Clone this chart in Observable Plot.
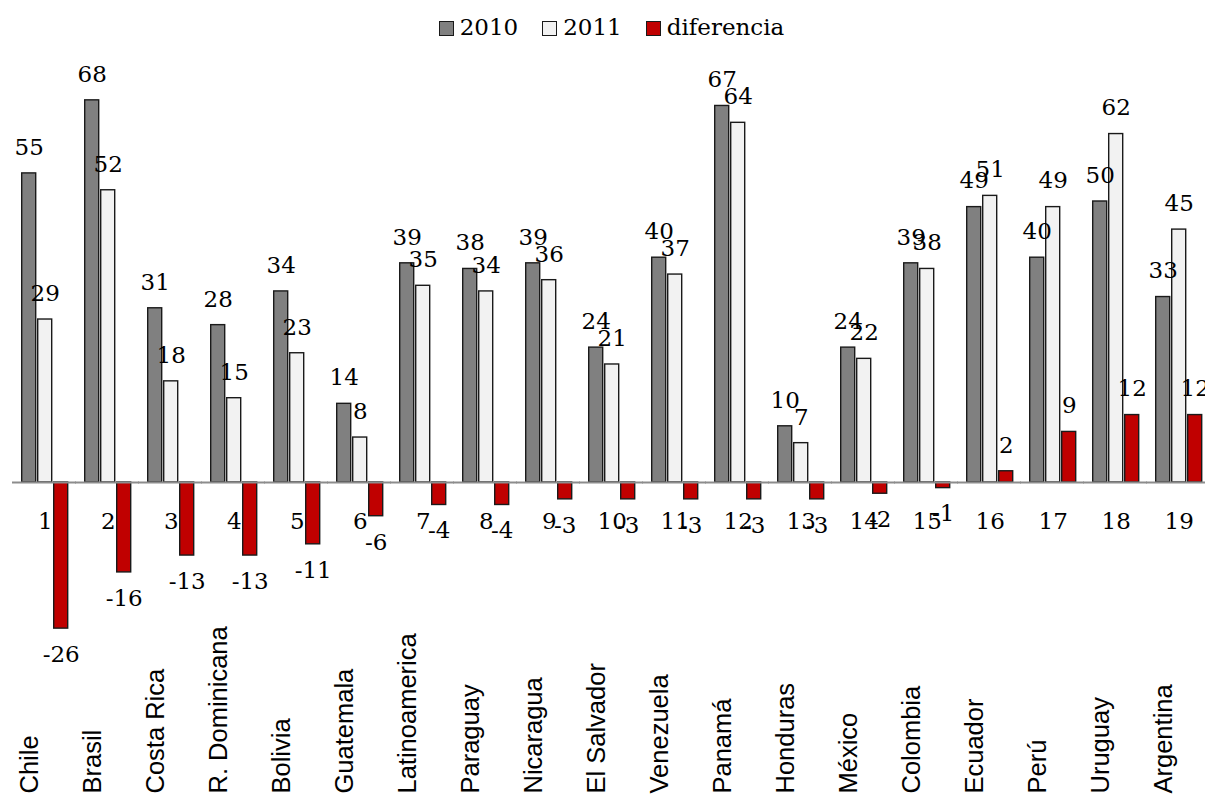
<!DOCTYPE html>
<html>
<head>
<meta charset="utf-8">
<script src="https://cdn.jsdelivr.net/npm/d3@7"></script>
<script src="https://cdn.jsdelivr.net/npm/@observablehq/plot@0.6"></script>
<style>
  body { margin: 0; background: #fff; }
  #legend {
    height: 50px; display: flex; justify-content: center; align-items: flex-start;
    font-family: "DejaVu Serif", serif; font-size: 23px; color: #000;
    padding-left: 18px; box-sizing: border-box;
  }
  .item { display: flex; align-items: center; margin: 0 12px; margin-top: 14px; }
  .sw { width: 13px; height: 13px; border: 1.4px solid #1a1a1a; margin-right: 6px; margin-top: 2px; }
  #chart svg { display: block; }
</style>
</head>
<body>
<div id="legend"></div>
<div id="chart"></div>
<script>
const countries = ["Chile","Brasil","Costa Rica","R. Dominicana","Bolivia","Guatemala","Latinoamerica","Paraguay","Nicaragua","El Salvador","Venezuela","Panamá","Honduras","México","Colombia","Ecuador","Perú","Uruguay","Argentina"];
const series = ["2010", "2011", "diferencia"];
const v2010 = [55,68,31,28,34,14,39,38,39,24,40,67,10,24,39,49,40,50,33];
const v2011 = [29,52,18,15,23,8,35,34,36,21,37,64,7,22,38,51,49,62,45];
const diferencia = [-26,-16,-13,-13,-11,-6,-4,-4,-3,-3,-3,-3,-3,-2,-1,2,9,12,12];
const indices = countries.map((c, i) => String(i + 1));
const colors = ["#808080", "#f2f2f2", "#c00000"];

const rows = [];
countries.forEach((c, i) => {
  rows.push({country: c, serie: "2010", value: v2010[i]});
  rows.push({country: c, serie: "2011", value: v2011[i]});
  rows.push({country: c, serie: "diferencia", value: diferencia[i]});
});
const idx = countries.map((c, i) => ({country: c, label: indices[i]}));

// legend
const legend = document.getElementById("legend");
series.forEach((s, i) => {
  const it = document.createElement("div");
  it.className = "item";
  const sw = document.createElement("div");
  sw.className = "sw";
  sw.style.background = colors[i];
  const t = document.createElement("span");
  t.textContent = s;
  it.appendChild(sw); it.appendChild(t);
  legend.appendChild(it);
});

const serif = "DejaVu Serif, serif";
const chart = Plot.plot({
  width: 1205,
  height: 746,
  marginLeft: 18.3,
  marginRight: 1.3,
  marginTop: 0,
  marginBottom: 0,
  fx: {domain: countries, range: [18.3, 1203.7], paddingInner: 0.273, paddingOuter: 0, axis: null},
  x: {domain: series, paddingInner: 0.15, paddingOuter: 0, axis: null},
  y: {domain: [0, 68], range: [432, 432 - 68 * 5.62], axis: null},
  color: {domain: series, range: colors},
  style: {background: "#fff", overflow: "hidden"},
  marks: [
    Plot.barY(rows, {fx: "country", x: "serie", y: "value", fill: "serie", stroke: "#1a1a1a", strokeWidth: 1.4}),
    Plot.ruleY(idx, {fx: "country", y: () => 0, stroke: "#8c8c8c", strokeWidth: 2.2, insetLeft: -9, insetRight: -9}),
    Plot.text(rows.filter(d => d.value >= 0), {fx: "country", x: "serie", y: "value", text: d => String(d.value), dy: -26, fontFamily: serif, fontSize: 23, fill: "#000"}),
    Plot.text(rows.filter(d => d.value < 0), {fx: "country", x: "serie", y: "value", text: d => String(d.value), dy: 26, fontFamily: serif, fontSize: 23, fill: "#000"}),
    Plot.text(idx, {fx: "country", x: () => "2011", y: () => 0, text: "label", dy: 39, fontFamily: serif, fontSize: 23, fill: "#000"}),
    Plot.text(idx, {fx: "country", x: () => "2010", text: "country", frameAnchor: "bottom", rotate: -90, textAnchor: "start", dx: 9, dy: -3, fontFamily: "Liberation Sans, Arial, sans-serif", fontSize: 25.5, fill: "#000"})
  ]
});
document.getElementById("chart").appendChild(chart);
</script>
</body>
</html>
